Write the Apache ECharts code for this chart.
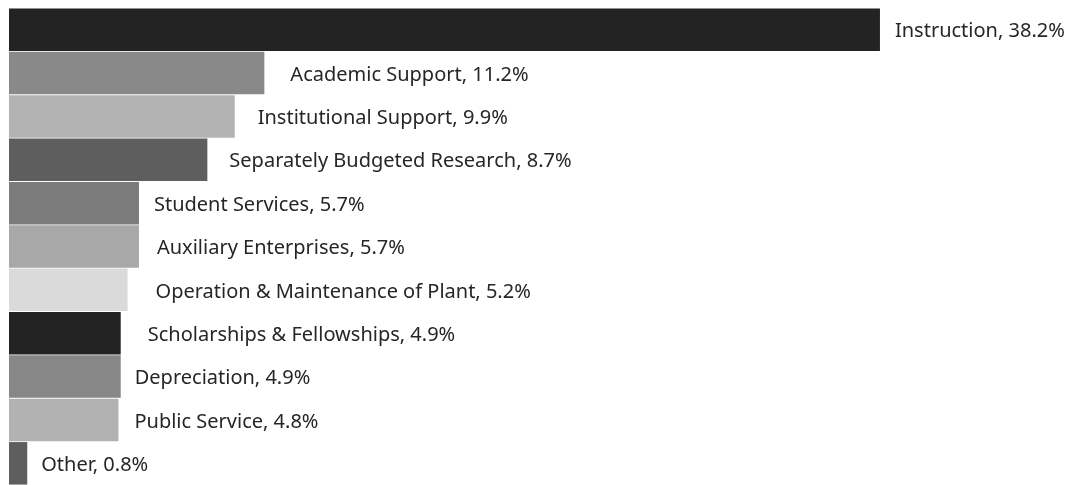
<!DOCTYPE html>
<html><head><meta charset="utf-8">
<script src="https://cdn.jsdelivr.net/npm/echarts@6/dist/echarts.min.js"></script>
<style>html,body{margin:0;padding:0;background:#fff}#c{width:1081px;height:485px}</style>
</head><body><div id="c"></div>
<script>
const categories = ["Instruction","Academic Support","Institutional Support","Separately Budgeted Research","Student Services","Auxiliary Enterprises","Operation & Maintenance of Plant","Scholarships & Fellowships","Depreciation","Public Service","Other"];
const values = [38.2, 11.2, 9.9, 8.7, 5.7, 5.7, 5.2, 4.9, 4.9, 4.8, 0.8];
const colors = ["#232323","#898989","#b3b3b3","#5e5e5e","#7b7b7b","#a8a8a8","#dadada","#232323","#878787","#b2b2b2","#5e5e5e"];
const labelGaps = [15, 26, 23, 22, 15, 18, 28, 27, 14, 16, 14];

const chart = echarts.init(document.getElementById('c'), null, {renderer:'canvas'});
chart.setOption({
  animation:false,
  grid:{left:9, top:8, width:912, height:480},
  xAxis:{type:'value', min:0, max:40, show:false},
  yAxis:{type:'category', data:categories, inverse:true, show:false},
  series:[{
    type:'bar',
    barCategoryGap:'2%',
    data: values.map((v,i)=>({value:v, itemStyle:{color:colors[i]}, label:{distance:labelGaps[i]}})),
    label:{show:true, position:'right', color:'#262626', fontFamily:'Noto Sans', fontSize:20, offset:[0,2],
      formatter:p=>p.name+', '+p.value.toFixed(1)+'%'}
  }]
});
</script></body></html>
